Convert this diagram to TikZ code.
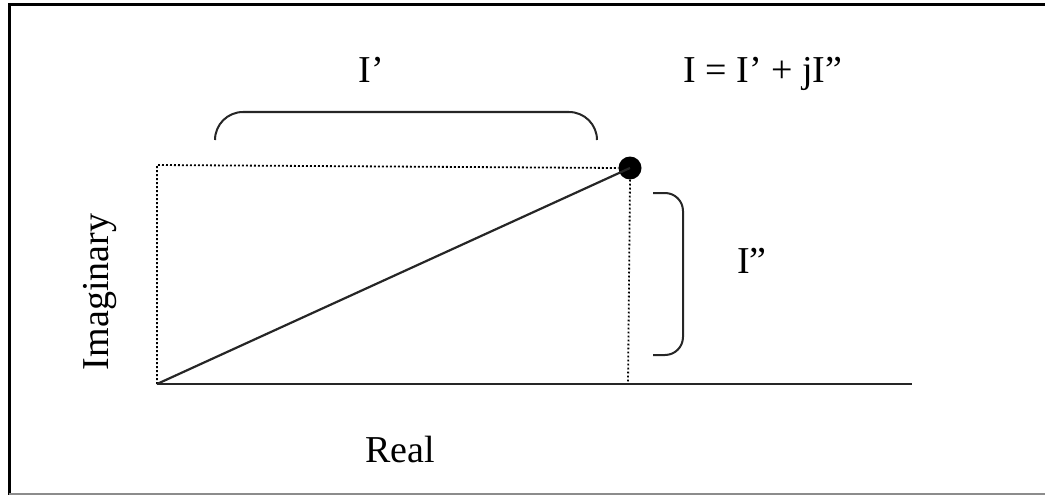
\documentclass[tikz,border=0pt]{standalone}
\usepackage{fontspec}
\setmainfont{Liberation Serif}
\begin{document}
\begin{tikzpicture}[x=1pt,y=-1pt,
  lbl/.style={font=\fontsize{38}{40}\selectfont, inner sep=0pt, anchor=base},
  axisline/.style={line width=2.2pt, draw=black!85},
  dotline/.style={line width=1.8pt, dash pattern=on 1.8pt off 2.2pt},
  bracket/.style={line width=2pt, draw=black!85}]
\useasboundingbox (0,0) rectangle (1045,495);
% frame
\draw[line width=3pt] (9,495) -- (9,5) -- (1045,5);
\draw[line width=1.2pt, draw=black!45] (9,494) -- (1045,494);
% points
\coordinate (O) at (157,384);
\coordinate (X) at (912,384);
\coordinate (TL) at (157,165);
\coordinate (F) at (628,384);
\node[circle, fill=black, inner sep=0pt, minimum size=23pt] (P) at (630,168) {};
% dotted rectangle
\draw[dotline] (O) -- (TL) -- (P.west);
\draw[dotline] (P.south) -- (F);
% axis and vector
\draw[axisline] (O) -- (X);
\draw[axisline] (O) -- (P.center);
% brackets
\coordinate (b1) at (215,140);
\coordinate (b2) at (597,140);
\draw[bracket, rounded corners=28pt] (b1) -- (215,112) -- (597,112) -- (b2);
\coordinate (c1) at (653,193);
\coordinate (c2) at (653,355);
\draw[bracket, rounded corners=18pt] (c1) -- (683,193) -- (683,355) -- (c2);
% labels
\node[lbl] (lre) at (371,82) {I’};
\node[lbl] (leq) at (763,82) {I = I’ + jI”};
\node[lbl] (lim) at (752,273) {I”};
\node[lbl] (lreal) at (400,462) {Real};
\node[lbl, rotate=90] (limag) at (108,292) {Imaginary};
\end{tikzpicture}
\end{document}
